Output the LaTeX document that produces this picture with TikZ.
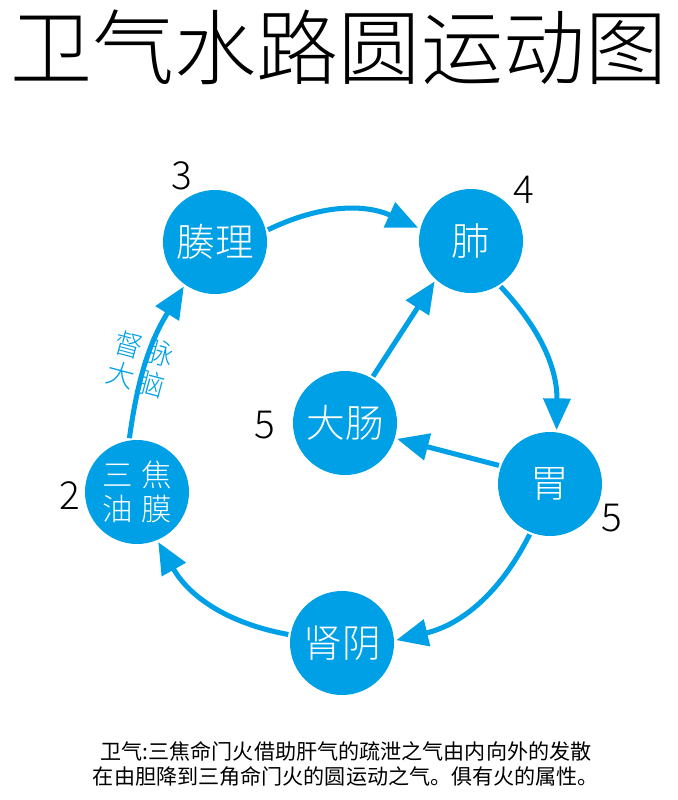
\documentclass[tikz,border=0pt]{standalone}
\usepackage{fontspec}
\newfontfamily\cjk{Noto Sans CJK SC Light}
\newfontfamily\cjkreg{Noto Sans CJK SC}
\usetikzlibrary{arrows.meta}
\definecolor{organblue}{RGB}{0,160,230}

\begin{document}
\begin{tikzpicture}[x=0.03cm,y=-0.03cm,
	organ/.style={circle,fill=organblue,text=white,inner sep=0,outer sep=2pt,minimum size=3.12cm,font=\cjk\fontsize{33}{34}\selectfont},
	num/.style={font=\cjk\fontsize{33}{34}\selectfont},
	flow/.style={draw=organblue,line width=4.3pt,-{Triangle[length=0.95cm,width=0.8cm]}}]
	\useasboundingbox (0,0) rectangle (678,800);
	\node[font=\cjk\fontsize{70}{72}\selectfont] (title) at (339,47) {卫气水路圆运动图};
	\node[organ] (couli) at (215,242) {腠理};
	\node[organ] (fei) at (471,241) {肺};
	\node[organ] (wei) at (550,484) {胃};
	\node[organ] (shenyin) at (342,643) {肾阴};
	\node[organ,align=center,font=\cjk\fontsize{26}{29}\selectfont] (sanjiao) at (137,492) {三\hspace{7pt}焦\\油\hspace{7pt}膜};
	\node[organ] (dachang) at (345,423) {大肠};
	\node[num] (n3) at (182,176) {3};
	\node[num] (n4) at (524,190) {4};
	\node[num] (n5a) at (265,425) {5};
	\node[num] (n5b) at (612,518) {5};
	\node[num] (n2) at (70,496) {2};
	\draw[flow] (couli.13) to[bend left=25] (fei.166);
	\draw[flow] (fei.-57) to[bend left=22] (wei.83);
	\draw[flow] (wei.-112) to[bend left=25] (shenyin.3);
	\draw[flow] (shenyin.171) to[bend left=25] (sanjiao.-67);
	\draw[flow] (sanjiao.98) to[bend left=12] (couli.-125);
	\draw[flow] (wei.160) -- (dachang.-17);
	\draw[flow] (dachang.59) -- (fei.-132);
	\node[text=organblue,rotate=-15,align=center,font=\cjk\fontsize{24}{27}\selectfont] (dumai) at (140,364) {督\hspace{3pt}脉\\大\hspace{3pt}脑};
	\node[align=center,font=\cjkreg\fontsize{18}{21.5}\selectfont] (note) at (346,764) {卫气:三焦命门火借助肝气的疏泄之气由内向外的发散\\在由胆降到三角命门火的圆运动之气。俱有火的属性。};
\end{tikzpicture}
\end{document}
